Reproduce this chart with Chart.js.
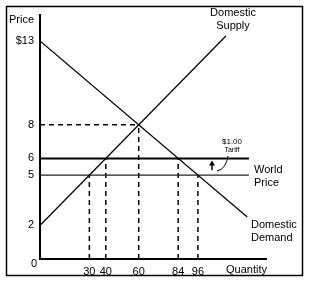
<!DOCTYPE html>
<html>
<head>
<meta charset="utf-8">
<script src="https://cdn.jsdelivr.net/npm/chart.js@4/dist/chart.umd.min.js"></script>
<style>
  html, body { margin: 0; padding: 0; background: #fff; }
  #wrap { width: 311px; height: 286px; }
</style>
</head>
<body>
<div id="wrap"><canvas id="tariffChart" width="311" height="286"></canvas></div>
<script>
// curve end points (quantity, price)
const supplyQ = [0, 113];
const supplyP = [2, 13.3];
const demandQ = [0, 126];
const demandP = [13, 2.5];

// world price and price with tariff
const worldPrice = 5;
const tariffPrice = 6;
const priceLineQ = [0, 127];

// no-trade equilibrium
const eqQ = 60;
const eqP = 8;

// quantities read at each price
const supplyAtWorld = 30;
const supplyAtTariff = 40;
const demandAtTariff = 84;
const demandAtWorld = 96;

const priceTicks = [0, 2, 5, 6, 8, 13];
const quantityTicks = [30, 40, 60, 84, 96];

const fontFam = "'Liberation Sans', Arial, sans-serif";

function seg(xs, ys) {
    return xs.map((x, i) => ({ x: x, y: ys[i] }));
}

function line(data, width, dash, color) {
    return {
        data: data,
        showLine: true,
        borderColor: color || '#000',
        borderWidth: width,
        borderDash: dash || [],
        pointRadius: 0,
        fill: false
    };
}

const dash = [5, 4];

// texto, eje x y marco
const labelsPlugin = {
    id: 'labels',
    beforeDraw(chart) {
        const c = chart.ctx;
        c.save();
        c.fillStyle = '#fff';
        c.fillRect(0, 0, chart.width, chart.height);
        c.strokeStyle = '#000';
        c.lineWidth = 1.5;
        c.strokeRect(6.5, 6.5, 296, 269);
        c.restore();
    },
    afterDraw(chart) {
        const c = chart.ctx;
        const xs = chart.scales.x, ys = chart.scales.y;
        c.save();

        // eje x
        const y0 = ys.getPixelForValue(0);
        c.strokeStyle = '#000';
        c.lineWidth = 2;
        c.beginPath();
        c.moveTo(xs.getPixelForValue(0) - 1, y0);
        c.lineTo(xs.getPixelForValue(xs.max), y0);
        c.stroke();

        c.fillStyle = '#000';
        c.textBaseline = 'middle';
        c.font = '11px ' + fontFam;

        c.textAlign = 'left';
        c.fillText('Price', 9, 20);
        c.textAlign = 'right';
        c.fillText('0', 37, 264);
        c.textAlign = 'left';
        c.fillText('Quantity', 226, 270);

        c.textAlign = 'center';
        c.fillText('Domestic', 233, 13);
        c.fillText('Supply', 233, 26);

        c.textAlign = 'left';
        c.fillText('World', 254, 170);
        c.fillText('Price', 254, 183);
        c.fillText('Domestic', 251, 225);
        c.fillText('Demand', 251, 238);

        c.textAlign = 'center';
        c.font = '8px ' + fontFam;
        c.fillText('$1.00', 232, 142);
        c.font = '7px ' + fontFam;
        c.fillText('Tariff', 232, 150);

        // flecha del arancel
        const ax = 212;
        const yTop = ys.getPixelForValue(tariffPrice) + 2;
        const yBot = ys.getPixelForValue(worldPrice) - 5;
        c.lineWidth = 1.5;
        c.beginPath();
        c.moveTo(ax, yBot);
        c.lineTo(ax, yTop + 4);
        c.stroke();
        c.beginPath();
        c.moveTo(ax, yTop);
        c.lineTo(ax - 3, yTop + 5);
        c.lineTo(ax + 3, yTop + 5);
        c.closePath();
        c.fill();

        c.lineWidth = 1;
        c.beginPath();
        c.moveTo(228, 156);
        c.quadraticCurveTo(226, 169, 217, 171);
        c.stroke();
        c.restore();
    }
};

new Chart(document.getElementById('tariffChart'), {
    type: 'scatter',
    data: {
        datasets: [
            line(seg(supplyQ, supplyP), 1.2),
            line(seg(demandQ, demandP), 1.2),
            line(seg(priceLineQ, [tariffPrice, tariffPrice]), 2),
            line(seg(priceLineQ, [worldPrice, worldPrice]), 1.2, [], '#222'),
            line(seg([0, eqQ], [eqP, eqP]), 1.5, dash),
            line(seg([eqQ, eqQ], [0, eqP]), 1.5, dash),
            line(seg([supplyAtWorld, supplyAtWorld], [0, worldPrice]), 1.5, dash),
            line(seg([supplyAtTariff, supplyAtTariff], [0, tariffPrice]), 1.5, dash),
            line(seg([demandAtTariff, demandAtTariff], [0, tariffPrice]), 1.5, dash),
            line(seg([demandAtWorld, demandAtWorld], [0, worldPrice]), 1.5, dash)
        ]
    },
    options: {
        responsive: false,
        animation: false,
        layout: { padding: { left: 0, top: 15, right: 44, bottom: 0 } },
        plugins: {
            legend: { display: false },
            tooltip: { enabled: false }
        },
        scales: {
            x: {
                type: 'linear',
                min: 0,
                max: 138,
                grid: { display: false, drawTicks: false },
                border: { display: false },
                afterBuildTicks: s => { s.ticks = quantityTicks.map(v => ({ value: v })); },
                afterFit: s => { s.height = 27; },
                ticks: {
                    autoSkip: false,
                    maxRotation: 0,
                    padding: 6,
                    color: '#000',
                    font: { family: fontFam, size: 11 }
                }
            },
            y: {
                type: 'linear',
                min: 0,
                max: 14.55,
                grid: { display: false, drawTicks: false },
                border: { display: true, color: '#000', width: 2 },
                afterBuildTicks: s => { s.ticks = priceTicks.filter(v => v > 0).map(v => ({ value: v })); },
                afterFit: s => { s.width = 40; },
                ticks: {
                    autoSkip: false,
                    padding: 6,
                    color: '#000',
                    font: { family: fontFam, size: 11 },
                    callback: v => v === 13 ? '$13' : v
                }
            }
        }
    },
    plugins: [labelsPlugin]
});
</script>
</body>
</html>
